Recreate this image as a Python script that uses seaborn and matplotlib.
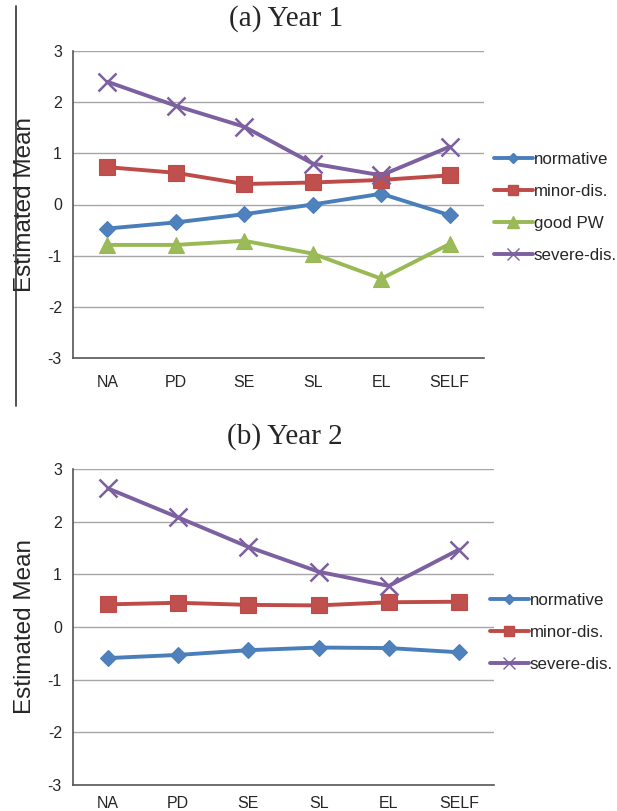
import matplotlib
matplotlib.use("Agg")
import matplotlib.pyplot as plt
import seaborn as sns
from matplotlib.lines import Line2D

categories = ["NA", "PD", "SE", "SL", "EL", "SELF"]

y1_normative = [-0.47, -0.35, -0.19, 0.00, 0.21, -0.21]
y1_minor = [0.73, 0.62, 0.40, 0.43, 0.48, 0.57]
y1_goodpw = [-0.79, -0.79, -0.71, -0.96, -1.45, -0.77]
y1_severe = [2.40, 1.93, 1.52, 0.80, 0.57, 1.13]

y2_normative = [-0.59, -0.53, -0.44, -0.39, -0.40, -0.48]
y2_minor = [0.43, 0.46, 0.42, 0.41, 0.47, 0.48]
y2_severe = [2.63, 2.08, 1.52, 1.05, 0.78, 1.47]

y_ticks = [-3, -2, -1, 0, 1, 2, 3]

sns.set_style("white")
plt.rcParams["font.family"] = ["Liberation Sans", "DejaVu Sans"]

styles = {
    "normative": dict(color="#4A7EBB", marker="D", ms=8, mfc="#4F81BD"),
    "minor-dis.": dict(color="#BE4B48", marker="s", ms=11, mfc="#C0504D"),
    "good PW": dict(color="#98B954", marker="^", ms=12, mfc="#9BBB59"),
    "severe-dis.": dict(color="#7D60A0", marker="x", ms=13, mfc="#8064A2"),
}

W, H = 617, 811
fig = plt.figure(figsize=(W / 100, H / 100), dpi=100)


def make_axes(l, r, t, b):
    return fig.add_axes([l / W, 1 - b / H, (r - l) / W, (b - t) / H])


def draw_panel(ax, series, title, title_x, title_y, leg_x, leg_top, xpad):
    for name, vals in series:
        st = styles[name]
        sns.lineplot(x=categories, y=vals, ax=ax, color=st["color"], linewidth=2.8,
                     marker=st["marker"], markersize=st["ms"], markerfacecolor=st["mfc"],
                     markeredgecolor=st["color"], markeredgewidth=1.8 if st["marker"] == "x" else 0.8,
                     sort=False, label=name)
    ax.set_ylim(-3, 3)
    ax.set_xlim(-0.5, 5.5)
    ax.set_yticks(y_ticks)
    ax.set_yticklabels([str(v) for v in y_ticks], fontsize=11.5)
    ax.set_xticks(range(len(categories)))
    ax.set_xticklabels(categories, fontsize=11.5)
    ax.set_xticks([i - 0.5 for i in range(len(categories) + 1)], minor=True)
    ax.tick_params(axis="x", which="major", length=0, pad=xpad)
    ax.tick_params(axis="x", which="minor", length=6, width=1, color="#555555", direction="out")
    ax.tick_params(axis="y", length=5, width=1, color="#555555", direction="out", pad=3)
    for y in y_ticks[1:]:
        ax.axhline(y, color="#A6A6A6", lw=1, zorder=0)
    for s in ["top", "right"]:
        ax.spines[s].set_visible(False)
    for s in ["left", "bottom"]:
        ax.spines[s].set_color("#555555")
        ax.spines[s].set_linewidth(1.2)
    ax.set_xlabel("")
    ax.set_ylabel("Estimated Mean", fontsize=17.5)
    ax.yaxis.set_label_coords(-(73 - 36) / (ax.get_position().width * W), 0.5)
    fig.text(title_x / W, 1 - title_y / H, title, ha="center", va="center", fontsize=21,
             family=["Liberation Serif", "DejaVu Serif"])
    handles = []
    for name, _ in series:
        st = styles[name]
        handles.append(Line2D([], [], color=st["color"], lw=2.8, marker=st["marker"],
                              markersize=st["ms"] * 0.7, markerfacecolor=st["mfc"],
                              markeredgecolor=st["color"]))
    ax.get_legend().remove()
    fig.legend(handles, [n for n, _ in series], loc="upper left",
               bbox_to_anchor=(leg_x / W, 1 - leg_top / H), frameon=False,
               fontsize=12.2, handlelength=2.3, handletextpad=0.05, labelspacing=1.0,
               borderaxespad=0, borderpad=0)


ax1 = make_axes(73, 484, 51, 358)
draw_panel(ax1, [("normative", y1_normative), ("minor-dis.", y1_minor),
                 ("good PW", y1_goodpw), ("severe-dis.", y1_severe)],
           "(a) Year 1", 286, 19, 494, 152, 12)

ax2 = make_axes(73, 494, 469, 785)
draw_panel(ax2, [("normative", y2_normative), ("minor-dis.", y2_minor),
                 ("severe-dis.", y2_severe)],
           "(b) Year 2", 285, 437, 490, 593, 8)

fig.add_artist(Line2D([16 / W, 16 / W], [1 - 6 / H, 1 - 406 / H], color="#333333", lw=1.2))

fig.savefig("out.png", dpi=100)
